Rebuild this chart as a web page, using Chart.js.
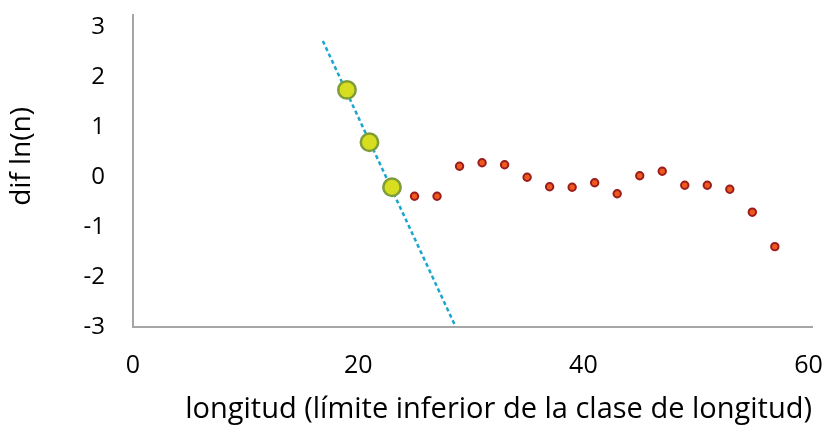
<!DOCTYPE html>
<html>
<head>
<meta charset="utf-8">
<script src="https://cdn.jsdelivr.net/npm/chart.js@4"></script>
<style>
  html, body { margin: 0; padding: 0; background: #fff; }
  #wrap { width: 835px; height: 432px; }
</style>
</head>
<body>
<div id="wrap"><canvas id="chart" width="835" height="432"></canvas></div>
<script>
// --- data ---
const fitX = [19, 21, 23];
const fitY = [1.75, 0.70, -0.20];

const restX = [25, 27, 29, 31, 33, 35, 37, 39, 41, 43, 45, 47, 49, 51, 53, 55, 57];
const restY = [-0.38, -0.38, 0.22, 0.29, 0.25, 0.00, -0.19, -0.20, -0.11, -0.33, 0.03, 0.12, -0.16, -0.16, -0.24, -0.70, -1.39];

// trend line end points
const trendX = [16.86, 28.58];
const trendY = [2.73, -2.96];

const xTicks = [0, 20, 40, 60];
const yTicks = [-3, -2, -1, 0, 1, 2, 3];

const toPoints = (xs, ys) => xs.map((x, i) => ({ x: x, y: ys[i] }));

const FONT = "'Open Sans', 'Liberation Sans', sans-serif";
const axisGray = '#a6a6a6';

new Chart(document.getElementById('chart'), {
    type: 'scatter',
    data: {
        datasets: [
            {
                label: 'trend',
                type: 'line',
                data: toPoints(trendX, trendY),
                borderColor: '#1aa6cc',
                borderWidth: 2.5,
                borderDash: [4, 3],
                pointRadius: 0,
                fill: false,
                order: 3
            },
            {
                label: 'fit',
                data: toPoints(fitX, fitY),
                backgroundColor: '#d6de1f',
                borderColor: '#7e9c3a',
                borderWidth: 2.5,
                pointRadius: 8.7,
                order: 1
            },
            {
                label: 'rest',
                data: toPoints(restX, restY),
                backgroundColor: '#ef5a1c',
                borderColor: '#9a1c1c',
                borderWidth: 2,
                pointRadius: 3.7,
                order: 2
            }
        ]
    },
    options: {
        responsive: false,
        animation: false,
        layout: { padding: { top: 15, right: 23, left: 0, bottom: 0 } },
        plugins: {
            legend: { display: false },
            tooltip: { enabled: false }
        },
        scales: {
            x: {
                type: 'linear',
                min: 0,
                max: 60.3,
                afterBuildTicks: (s) => { s.ticks = xTicks.map(v => ({ value: v })); },
                afterFit: (s) => { s.height = 105; s.paddingLeft = 0; s.paddingRight = 0; },
                grid: { display: false, drawTicks: false },
                border: { display: true, color: axisGray, width: 2 },
                ticks: { color: '#000', font: { family: FONT, size: 25 }, padding: 24, maxRotation: 0 },
                title: {
                    display: true,
                    text: 'longitud (límite inferior de la clase de longitud)',
                    color: '#000',
                    align: 'end',
                    font: { family: FONT, size: 29 },
                    padding: { top: 0, bottom: 5 }
                }
            },
            y: {
                type: 'linear',
                min: -3,
                max: 3.25,
                afterBuildTicks: (s) => { s.ticks = yTicks.map(v => ({ value: v })); },
                afterFit: (s) => { s.width = 133; s.paddingTop = 0; s.paddingBottom = 0; },
                grid: { display: false, drawTicks: false },
                border: { display: true, color: axisGray, width: 2 },
                ticks: { color: '#000', font: { family: FONT, size: 24 }, padding: 28 },
                title: {
                    display: true,
                    text: '    dif ln(n)',
                    color: '#000',
                    font: { family: FONT, size: 28 },
                    padding: { top: 5, bottom: 0 }
                }
            }
        }
    }
});
</script>
</body>
</html>
